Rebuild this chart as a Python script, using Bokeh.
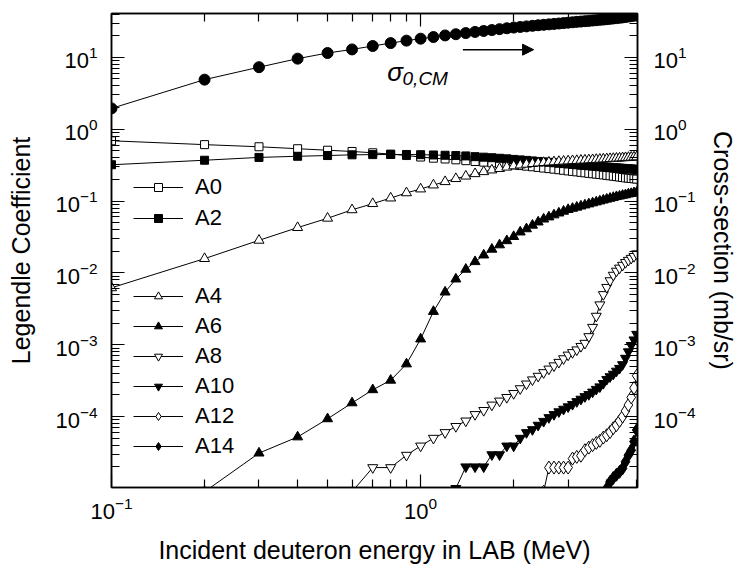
from bokeh.plotting import figure
from bokeh.models import (LogAxis, FixedTicker, Legend, LegendItem, Label, Arrow,
                          NormalHead, CustomJSTickFormatter, Range1d)
from bokeh.embed import file_html
from bokeh.resources import INLINE

nan = float("nan")

# Incident deuteron energy (MeV), LAB
energy = [0.1, 0.2, 0.3, 0.4, 0.5, 0.6, 0.7, 0.8, 0.9, 1.0,
          1.1, 1.2, 1.3, 1.4, 1.5, 1.6, 1.7, 1.8, 1.9, 2.0,
          2.1, 2.2, 2.3, 2.4, 2.5, 2.6, 2.7, 2.8, 2.9, 3.0,
          3.1, 3.2, 3.3, 3.4, 3.5, 3.6, 3.7, 3.8, 3.9, 4.0,
          4.1, 4.2, 4.3, 4.4, 4.5, 4.6, 4.7, 4.8, 4.9, 5.0]

sigma0_cm = [1.95, 4.9, 7.3, 9.6, 11.5, 12.9, 14.4, 15.8, 17.1, 18.2,
             19.2, 20.2, 21.0, 21.8, 22.6, 23.3, 24.0, 24.7, 25.4, 26.0,
             26.5, 27.0, 27.5, 28.0, 28.4, 28.8, 29.2, 29.6, 30.0, 30.4,
             30.8, 31.2, 31.5, 31.9, 32.2, 32.6, 32.9, 33.3, 33.6, 34.0,
             34.4, 34.8, 35.2, 35.6, 36.0, 36.5, 37.0, 37.5, 38.0, 38.6]

a0 = [0.69, 0.61, 0.57, 0.535, 0.51, 0.49, 0.47, 0.45, 0.43, 0.41,
      0.395, 0.385, 0.375, 0.365, 0.355, 0.348, 0.34, 0.333, 0.326, 0.318,
      0.312, 0.306, 0.30, 0.294, 0.288, 0.283, 0.278, 0.273, 0.268, 0.263,
      0.259, 0.255, 0.251, 0.247, 0.243, 0.240, 0.237, 0.234, 0.231, 0.228,
      0.225, 0.222, 0.219, 0.216, 0.213, 0.210, 0.208, 0.206, 0.204, 0.202]

a2 = [0.32, 0.37, 0.405, 0.42, 0.43, 0.44, 0.443, 0.445, 0.445, 0.442,
      0.438, 0.434, 0.43, 0.425, 0.415, 0.408, 0.401, 0.394, 0.387, 0.38,
      0.374, 0.368, 0.362, 0.356, 0.351, 0.346, 0.341, 0.336, 0.332, 0.328,
      0.324, 0.32, 0.316, 0.313, 0.31, 0.307, 0.304, 0.301, 0.298, 0.296,
      0.294, 0.292, 0.29, 0.288, 0.286, 0.284, 0.282, 0.28, 0.278, 0.276]

a4 = [0.0062, 0.0158, 0.0284, 0.0427, 0.0576, 0.0755, 0.092, 0.11, 0.13, 0.147,
      0.167, 0.186, 0.205, 0.222, 0.24, 0.256, 0.27, 0.283, 0.296, 0.308,
      0.317, 0.325, 0.332, 0.338, 0.343, 0.347, 0.351, 0.355, 0.358, 0.361,
      0.364, 0.366, 0.369, 0.371, 0.374, 0.376, 0.379, 0.381, 0.384, 0.386,
      0.389, 0.391, 0.394, 0.396, 0.399, 0.401, 0.404, 0.406, 0.409, 0.411]

a6 = [nan, 0.9e-5, 3.1e-5, 5.2e-5, 9.3e-5, 1.55e-4, 2.36e-4, 3.2e-4, 5.4e-4, 1.2e-3,
      2.9e-3, 5.4e-3, 8.2e-3, 0.0112, 0.0143, 0.0177, 0.0213, 0.0245, 0.028, 0.032,
      0.037, 0.041, 0.046, 0.051, 0.056, 0.060, 0.064, 0.068, 0.072, 0.076,
      0.079, 0.082, 0.085, 0.088, 0.091, 0.094, 0.097, 0.100, 0.103, 0.106,
      0.109, 0.112, 0.115, 0.117, 0.120, 0.122, 0.125, 0.127, 0.130, 0.132]

a8 = [nan, nan, nan, nan, nan, 0.9e-5, 1.95e-5, 1.95e-5, 2.9e-5, 3.9e-5,
      5.0e-5, 6.0e-5, 7.3e-5, 8.7e-5, 1.07e-4, 1.22e-4, 1.45e-4, 1.65e-4, 1.85e-4, 2.1e-4,
      2.45e-4, 2.85e-4, 3.25e-4, 3.65e-4, 4.1e-4, 4.6e-4, 5.1e-4, 5.7e-4, 6.4e-4, 7.2e-4,
      7.8e-4, 8.5e-4, 9.5e-4, 1.05e-3, 1.3e-3, 1.75e-3, 2.5e-3, 3.6e-3, 5.0e-3, 6.3e-3,
      7.8e-3, 9.3e-3, 1.06e-2, 1.17e-2, 1.28e-2, 1.4e-2, 1.5e-2, 1.6e-2, 1.7e-2, 1.85e-2]

a10 = [nan, nan, nan, nan, nan, nan, nan, nan, nan, nan,
       nan, nan, 1.0e-5, 2.0e-5, 2.0e-5, 2.0e-5, 2.95e-5, 2.95e-5, 3.9e-5, 3.9e-5,
       5.0e-5, 6.0e-5, 6.6e-5, 7.6e-5, 8.6e-5, 9.7e-5, 1.07e-4, 1.17e-4, 1.27e-4, 1.37e-4,
       1.48e-4, 1.62e-4, 1.75e-4, 1.9e-4, 2.03e-4, 2.2e-4, 2.4e-4, 2.6e-4, 2.9e-4, 3.3e-4,
       3.6e-4, 3.9e-4, 4.3e-4, 4.7e-4, 5.3e-4, 6.5e-4, 8.0e-4, 9.8e-4, 1.17e-3, 1.4e-3]

a12 = [nan, nan, nan, nan, nan, nan, nan, nan, nan, nan,
       nan, nan, nan, nan, nan, nan, nan, nan, nan, nan,
       nan, nan, nan, nan, 0.9e-5, 1.95e-5, 1.95e-5, 1.95e-5, 1.95e-5, 1.95e-5,
       2.6e-5, 2.75e-5, 2.85e-5, 3.4e-5, 3.7e-5, 4.0e-5, 4.3e-5, 4.6e-5, 5.1e-5, 5.5e-5,
       6.1e-5, 6.9e-5, 7.6e-5, 8.7e-5, 1.0e-4, 1.2e-4, 1.45e-4, 1.85e-4, 2.5e-4, 3.7e-4]

a14 = [nan, nan, nan, nan, nan, nan, nan, nan, nan, nan,
       nan, nan, nan, nan, nan, nan, nan, nan, nan, nan,
       nan, nan, nan, nan, nan, nan, nan, nan, nan, nan,
       nan, nan, nan, nan, nan, nan, nan, nan, nan, 1.0e-5,
       1.23e-5, 1.4e-5, 1.55e-5, 1.7e-5, 1.9e-5, 2.35e-5, 2.9e-5, 3.4e-5, 4.5e-5, 6.5e-5]

x_major = [0.1, 1.0]
x_minor = [0.2, 0.3, 0.4, 0.5, 0.6, 0.7, 0.8, 0.9, 2.0, 3.0, 4.0, 5.0]
y_major = [1e-4, 1e-3, 1e-2, 1e-1, 1e0, 1e1]
y_minor = [k * 10.0 ** e for e in range(-5, 2) for k in range(2, 10)]

FONT = "Liberation Sans"

p = figure(width=740, height=572, x_axis_type="log", y_axis_type="log",
           x_range=Range1d(0.1, 5.03), y_range=Range1d(1.03e-5, 40.8),
           output_backend="svg", toolbar_location=None,
           min_border_left=111, min_border_right=103, min_border_top=13,
           min_border_bottom=85,
           x_axis_label="Incident deuteron energy in LAB (MeV)",
           y_axis_label="Legendle Coefficient")
p.xgrid.visible = False
p.ygrid.visible = False
p.outline_line_color = "black"
p.outline_line_width = 1.5
p.background_fill_color = "white"
p.border_fill_color = "white"

xticker = FixedTicker(ticks=x_major, minor_ticks=x_minor)
yticker = FixedTicker(ticks=y_major, minor_ticks=y_minor)


def style_axis(ax):
    ax.axis_line_color = "black"
    ax.axis_line_width = 1.5
    ax.major_tick_in = 13
    ax.major_tick_out = 0
    ax.minor_tick_in = 8
    ax.minor_tick_out = 0
    ax.major_tick_line_color = "black"
    ax.minor_tick_line_color = "black"
    ax.major_tick_line_width = 1.2
    ax.minor_tick_line_width = 1.2
    ax.major_label_text_font = FONT
    ax.major_label_text_font_size = "22px"
    ax.major_label_text_color = "black"
    ax.axis_label_text_font = FONT
    ax.axis_label_text_font_size = "25px"
    ax.axis_label_text_font_style = "normal"
    ax.axis_label_text_color = "black"


xa = p.xaxis[0]
xa.ticker = xticker
style_axis(xa)
xa.major_label_standoff = 9
xa.axis_label_standoff = 14

ya = p.yaxis[0]
ya.ticker = yticker
style_axis(ya)
ya.major_label_standoff = 14
ya.axis_label_standoff = 17

ra = LogAxis(ticker=yticker, axis_label="Cross-section (mb/sr)")
style_axis(ra)
ra.major_label_standoff = 16
ra.axis_label_standoff = 10
p.add_layout(ra, "right")

ta = LogAxis(ticker=xticker, formatter=CustomJSTickFormatter(code="return ''"))
style_axis(ta)
ta.major_label_text_font_size = "1px"
ta.major_label_standoff = 0
p.add_layout(ta, "above")

series = [
    ("sigma", sigma0_cm, "circle", "black", 11),
    ("A0", a0, "square", "white", 8),
    ("A2", a2, "square", "black", 8),
    ("A4", a4, "triangle", "white", 10),
    ("A6", a6, "triangle", "black", 10),
    ("A8", a8, "inverted_triangle", "white", 10),
    ("A10", a10, "inverted_triangle", "black", 10),
    ("A12", a12, "diamond", "white", 13),
    ("A14", a14, "diamond", "black", 13),
]

rend = {}
for name, vals, marker, fill, size in series:
    lr = p.line(energy, vals, line_color="black", line_width=1)
    sr = p.scatter(energy, vals, marker=marker, size=size, fill_color=fill,
                   line_color="black", line_width=1)
    rend[name] = [lr, sr]


def make_legend(names, loc, spacing):
    leg = Legend(items=[LegendItem(label=n, renderers=rend[n]) for n in names],
                 location=loc, orientation="vertical")
    leg.label_text_font = FONT
    leg.label_text_font_size = "22px"
    leg.label_text_color = "black"
    leg.glyph_width = 50
    leg.glyph_height = 20
    leg.label_height = 20
    leg.label_standoff = 12
    leg.spacing = spacing
    leg.padding = 0
    leg.margin = 0
    leg.border_line_alpha = 0
    leg.background_fill_alpha = 0
    return leg


p.add_layout(make_legend(["A0", "A2"], (22, 256), 5))
p.add_layout(make_legend(["A4", "A6", "A8", "A10", "A12", "A14"], (22, 28), 4))

p.add_layout(Arrow(end=NormalHead(size=11, fill_color="black", line_color="black"),
                   x_start=1.37, y_start=12.8, x_end=2.32, y_end=12.8,
                   line_color="black", line_width=1.5))
p.add_layout(Label(x=0.78, y=6.17, text="σ", text_font=FONT,
                   text_font_size="26px", text_font_style="italic",
                   text_baseline="alphabetic", text_color="black"))
p.add_layout(Label(x=0.874, y=5.0, text="0,CM", text_font=FONT,
                   text_font_size="19px", text_font_style="italic",
                   text_baseline="alphabetic", text_color="black"))

open("out.html", "w").write(file_html(p, INLINE))
